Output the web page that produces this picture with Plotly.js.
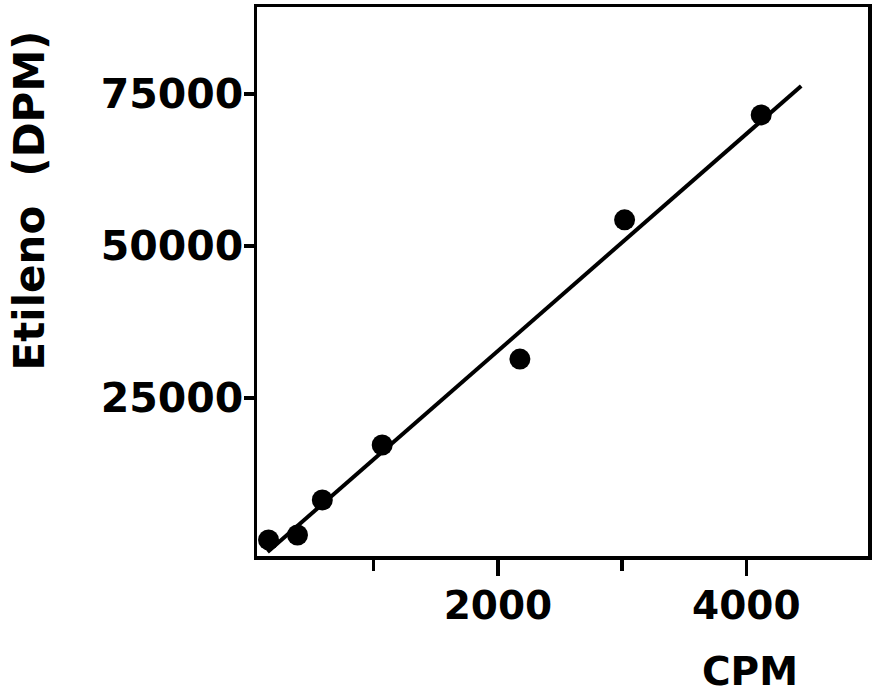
<!DOCTYPE html>
<html>
<head>
<meta charset="utf-8">
<script src="https://cdn.plot.ly/plotly-3.0.1.min.js"></script>
<style>
  html, body { margin: 0; padding: 0; background: #fff; }
  #chart { width: 873px; height: 694px; }
</style>
</head>
<body>
<div id="chart"></div>
<script>
// Measured samples: counts per minute vs. ethylene activity
const cpm = [153, 386, 586, 1068, 2177, 3020, 4120];
const dpm = [1650, 2470, 8220, 17270, 31400, 54300, 71550];

// Calibration line end points
const fitCpm = [145, 4442];
const fitDpm = [-330, 76300];

const yTickVals = [25000, 50000, 75000];
const yTickText = ['25000', '50000', '75000'];
const xTickVals = [2000, 4000];
const xTickText = ['2000', '4000'];
const xMinorVals = [1000, 3000];

const xTitle = 'CPM';
const yTitle = 'Etileno  (DPM)';

const FONT = 'DejaVu Sans, Arial, sans-serif';
const boldFont = (size) => ({ family: FONT, size: size, color: '#000', weight: 'bold' });

const traces = [
  {
    x: fitCpm, y: fitDpm,
    type: 'scatter', mode: 'lines',
    line: { color: '#000', width: 4 },
    hoverinfo: 'skip'
  },
  {
    x: cpm, y: dpm,
    type: 'scatter', mode: 'markers',
    marker: { color: '#000', size: 21 }
  }
];

const layout = {
  width: 873, height: 694,
  paper_bgcolor: '#fff', plot_bgcolor: '#fff',
  showlegend: false,
  margin: { l: 257, r: 5, t: 7, b: 138 },
  font: { family: FONT, color: '#000' },
  xaxis: {
    range: [60, 4980],
    tickvals: xTickVals, ticktext: xTickText,
    ticks: 'outside', ticklen: 16, tickwidth: 3.5, tickcolor: '#000',
    minor: { tickvals: xMinorVals, ticks: 'outside', ticklen: 11, tickwidth: 3.5, tickcolor: '#000', showgrid: false },
    ticklabelstandoff: -3,
    tickfont: boldFont(39),
    showline: true, linecolor: '#000', linewidth: 3.5, mirror: true,
    showgrid: false, zeroline: false
  },
  yaxis: {
    range: [-990, 89300],
    tickvals: yTickVals, ticktext: yTickText,
    ticks: 'outside', ticklen: 10, tickwidth: 3.5, tickcolor: '#000',
    ticklabelstandoff: -8,
    tickfont: boldFont(41),
    showline: true, linecolor: '#000', linewidth: 3.5, mirror: true,
    showgrid: false, zeroline: false
  },
  annotations: [
    // x axis title, set under the right-hand ticks
    { text: xTitle, xref: 'x', yref: 'paper', x: 4030, y: -0.165, xanchor: 'center', yanchor: 'top',
      showarrow: false, font: boldFont(39) },
    // y axis title, rotated
    { text: yTitle, xref: 'paper', yref: 'paper', x: -0.372, y: 0.647, xanchor: 'center', yanchor: 'middle',
      textangle: -90, showarrow: false, font: boldFont(42) }
  ]
};

Plotly.newPlot('chart', traces, layout, { displayModeBar: false, staticPlot: true });
</script>
</body>
</html>
